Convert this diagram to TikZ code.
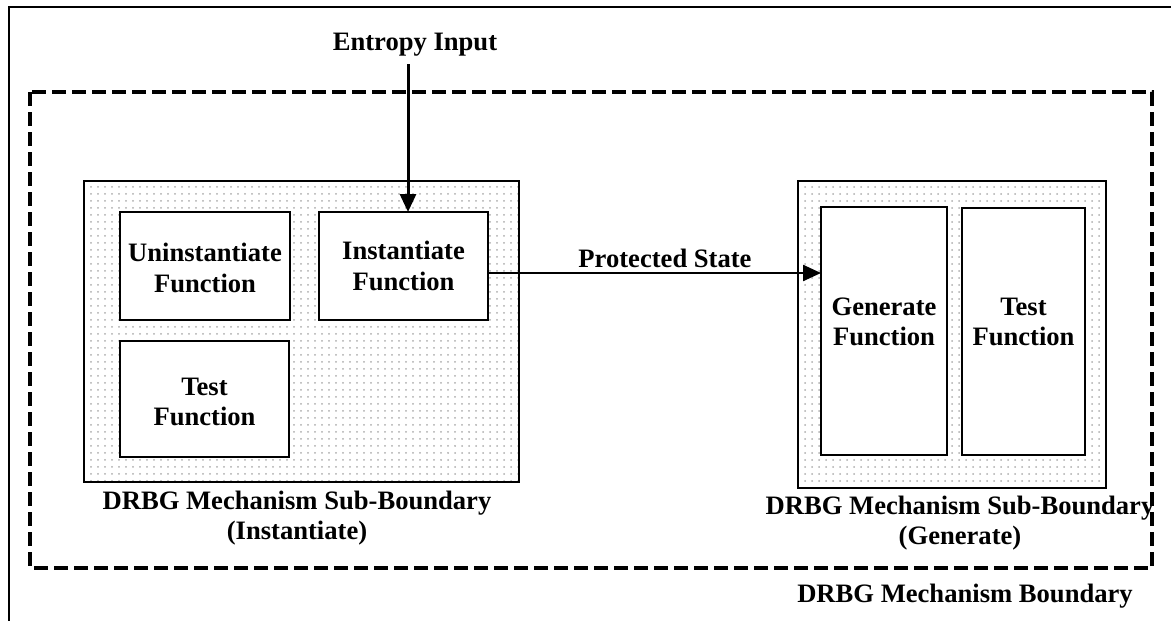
\documentclass[tikz,border=0pt]{standalone}
\usepackage{fontspec}
\setmainfont{Liberation Serif}
\usetikzlibrary{arrows.meta,patterns.meta,calc}
\begin{document}
\begin{tikzpicture}[x=1pt,y=-1pt,
  box/.style={draw=black, line width=2.4pt, fill=white, inner sep=0pt, outer sep=0pt},
  sub/.style={draw=black, line width=2.4pt, inner sep=0pt, outer sep=0pt,
    pattern={Dots[distance=7pt,radius=1pt]}, pattern color=black!32},
  lbl/.style={align=center, inner sep=0pt, font=\fontsize{26.6}{30.5}\selectfont\bfseries},
  arr/.style={line width=3pt, -{Triangle[length=18pt,width=16pt]}}]
\useasboundingbox (0,0) rectangle (1171,621);
% outer frame (partly cut off)
\draw[line width=2.6pt] (9,622) -- (9,7) -- (1172,7);
% dashed mechanism boundary
\draw[line width=3.5pt, dash pattern=on 14pt off 6pt] (30,92) rectangle (1152,568);
% instantiate sub-boundary
\node[sub, minimum width=435pt, minimum height=301pt] (subI) at (301.5,331.5) {};
\node[box, minimum width=170pt, minimum height=108pt] (uninst) at (205,266) {};
\node[box, minimum width=169pt, minimum height=108pt] (inst) at (403.5,266) {};
\node[box, minimum width=169pt, minimum height=116pt] (testI) at (204.5,399) {};
\node[lbl] (uninstT) at (205,268) {Uninstantiate\\Function};
\node[lbl] (instT) at (403.5,266) {Instantiate\\Function};
\node[lbl] (testIT) at (204.5,402) {Test\\Function};
\node[lbl] (subIlbl) at (297,518) {DRBG Mechanism Sub-Boundary\\(Instantiate)};
% generate sub-boundary
\node[sub, minimum width=308pt, minimum height=307pt] (subG) at (952,334.5) {};
\node[box, minimum width=126pt, minimum height=248pt] (gen) at (884,331) {};
\node[box, minimum width=123pt, minimum height=247pt] (testG) at (1023.5,331.5) {};
\node[lbl] (genT) at (884,322) {Generate\\Function};
\node[lbl] (testGT) at (1023.5,322) {Test\\Function};
\node[lbl] (subGlbl) at (960,523) {DRBG Mechanism Sub-Boundary\\(Generate)};
\node[lbl] (bnd) at (965,596) {DRBG Mechanism Boundary};
% entropy input
\node[lbl] (ent) at (415,45) {Entropy Input};
\coordinate (e0) at (408,64);
\draw[arr] (e0) -- (e0 |- inst.north);
% protected state
\coordinate (p0) at (inst.east |- 0,273);
\draw[arr, line width=2.4pt] (p0) -- (p0 -| gen.west);
\node[lbl] (prot) at (665,258) {Protected State};
\end{tikzpicture}
\end{document}
